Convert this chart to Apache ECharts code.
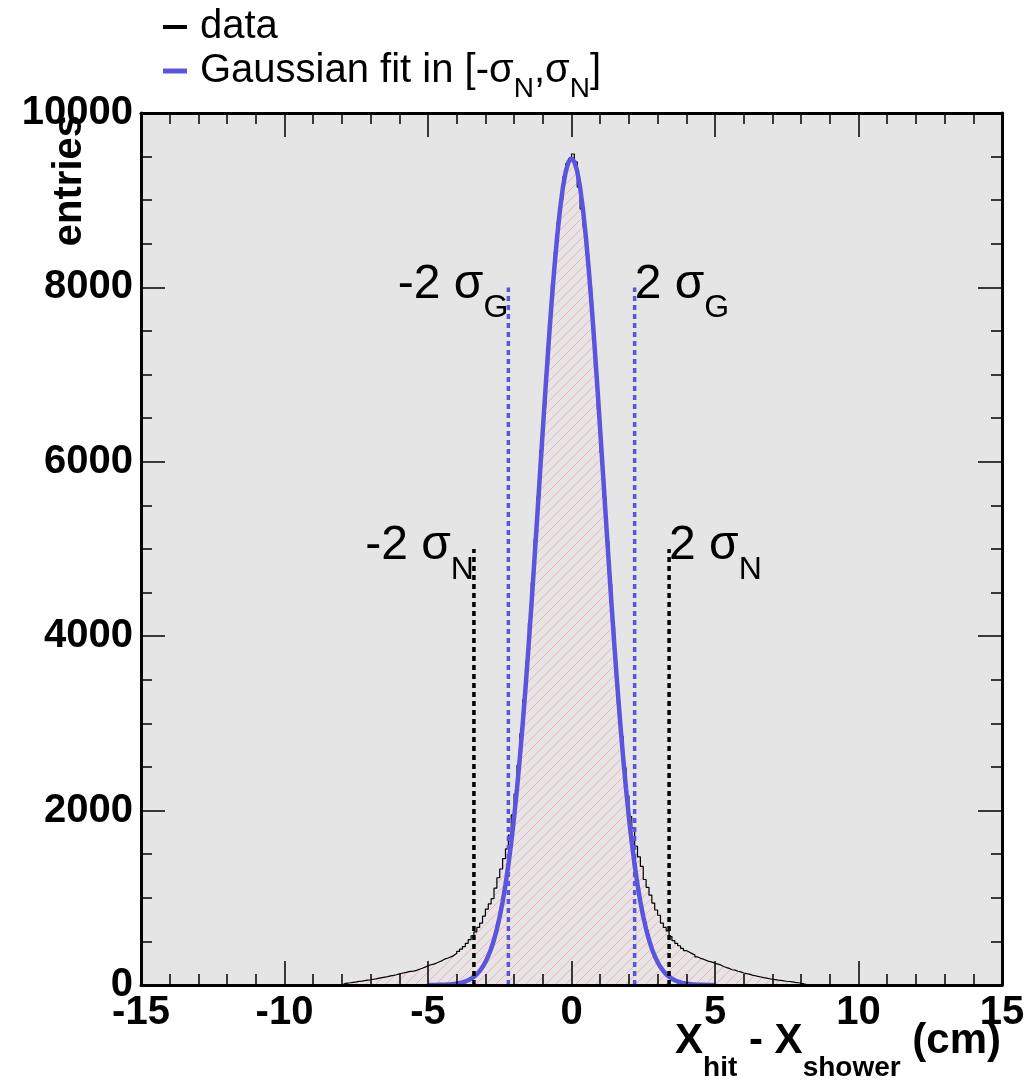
<!DOCTYPE html>
<html>
<head>
<meta charset="utf-8">
<script src="https://cdn.jsdelivr.net/npm/echarts@6/dist/echarts.min.js"></script>
<style>html,body{margin:0;padding:0;background:#fff;}#c{width:1028px;height:1084px;}</style>
</head>
<body>
<div id="c"></div>
<script>
// ---------- data ----------
const binStart = -8.0;
const binWidth = 0.1;
const counts = [
  15,22,26,31,35,42,45,50,56,60,
  66,70,78,84,90,96,104,110,118,128,
  135,141,150,156,160,168,180,192,205,220,
  232,240,252,266,280,300,310,322,340,362,
  385,412,440,478,520,565,610,660,710,790,
  870,930,990,1110,1230,1330,1450,1560,1720,1950,
  2190,2520,2880,3270,3700,4150,4620,5110,5600,6130,
  6620,7110,7600,8040,8410,8750,9010,9270,9420,9480,
  9530,9440,9150,8900,8700,8380,8000,7570,7090,6600,
  6100,5590,5090,4600,4110,3660,3230,2850,2490,2170,
  1930,1800,1590,1470,1360,1210,1120,1030,940,860,
  800,710,660,620,555,510,478,450,420,395,
  378,360,345,322,306,296,282,270,262,250,
  240,230,212,200,190,175,170,158,150,138,
  130,124,114,106,98,92,84,78,72,66,
  62,56,52,47,43,40,36,30,26,20,
  12,6
];
const fitX = [
  -5.0,-4.9,-4.8,-4.7,-4.6,-4.5,-4.4,-4.3,-4.2,-4.1,
  -4.0,-3.9,-3.8,-3.7,-3.6,-3.5,-3.4,-3.3,-3.2,-3.1,
  -3.0,-2.9,-2.8,-2.7,-2.6,-2.5,-2.4,-2.3,-2.2,-2.1,
  -2.0,-1.9,-1.8,-1.7,-1.6,-1.5,-1.4,-1.3,-1.2,-1.1,
  -1.0,-0.9,-0.8,-0.7,-0.6,-0.5,-0.4,-0.3,-0.2,-0.1,
  0.0,0.1,0.2,0.3,0.4,0.5,0.6,0.7,0.8,0.9,
  1.0,1.1,1.2,1.3,1.4,1.5,1.6,1.7,1.8,1.9,
  2.0,2.1,2.2,2.3,2.4,2.5,2.6,2.7,2.8,2.9,
  3.0,3.1,3.2,3.3,3.4,3.5,3.6,3.7,3.8,3.9,
  4.0,4.1,4.2,4.3,4.4,4.5,4.6,4.7,4.8,4.9,5.0
];
const fitY = [
  0,1,1,1,2,3,4,6,8,12,
  16,22,30,40,54,72,95,124,160,206,
  262,332,416,519,641,785,954,1151,1377,1635,
  1925,2248,2606,2996,3417,3866,4340,4834,5340,5852,
  6364,6864,7345,7798,8213,8581,8894,9146,9330,9442,
  9480,9442,9330,9146,8894,8581,8213,7798,7345,6864,
  6364,5852,5340,4834,4340,3866,3417,2996,2606,2248,
  1925,1635,1377,1151,954,785,641,519,416,332,
  262,206,160,124,95,72,54,40,30,22,
  16,12,8,6,4,3,2,1,1,1,0
];
const sigmaG = [-2.2, 2.2];
const sigmaGTop = 8000;
const sigmaN = [-3.4, 3.4];
const sigmaNTop = 5000;
const xTicks = [-15, 15, 5];      // min, max, interval
const yTicks = [0, 10000, 2000];  // min, max, interval

// ---------- build ----------
const histPts = [[binStart, 0]];
for (let i = 0; i < counts.length; i++) histPts.push([binStart + i * binWidth, counts[i]]);
histPts.push([binStart + counts.length * binWidth, 0]);
const fitPts = fitX.map((x, i) => [x, fitY[i]]);

const BLUE = '#5a55dc';
const FONT = "'Liberation Sans', Arial, Helvetica, sans-serif";

// hatch pattern (grey base with light pink diagonal lines)
const S = 10;
const pc = document.createElement('canvas');
pc.width = S; pc.height = S;
const pctx = pc.getContext('2d');
pctx.fillStyle = '#e6e4e4';
pctx.fillRect(0, 0, S, S);
pctx.fillStyle = 'rgb(242,178,178)';
for (let i = 0; i < S; i++) pctx.fillRect(i, S - 1 - i, 1, 1);

const chart = echarts.init(document.getElementById('c'), null, {renderer: 'canvas'});

const axisLine = {show: true, onZero: false, lineStyle: {color: '#000', width: 3}};
const tickStyle = {color: '#000', width: 1.5};
function xAx(pos, showLabel) {
  return {
    type: 'value', position: pos, min: xTicks[0], max: xTicks[1], interval: xTicks[2],
    axisLine: axisLine,
    axisTick: {show: true, inside: true, length: 24, lineStyle: tickStyle},
    minorTick: {show: true, splitNumber: 5, length: 11, lineStyle: tickStyle},
    splitLine: {show: false},
    axisLabel: {show: showLabel, color: '#000', fontFamily: FONT, fontWeight: 'bold', fontSize: 40, margin: 8,
      formatter: v => String(v)},
    z: 10
  };
}
function yAx(pos, showLabel) {
  return {
    type: 'value', position: pos, min: yTicks[0], max: yTicks[1], interval: yTicks[2],
    axisLine: axisLine,
    axisTick: {show: true, inside: true, length: 24, lineStyle: tickStyle},
    minorTick: {show: true, splitNumber: 4, length: 11, lineStyle: tickStyle},
    splitLine: {show: false},
    axisLabel: {show: showLabel, color: '#000', fontFamily: FONT, fontWeight: 'bold', fontSize: 40, margin: 8,
      formatter: v => String(v)},
    z: 10
  };
}

function sigmaLabel(x, top, main, sub, left) {
  return {
    value: [x, top],
    label: {
      show: true,
      position: left ? 'left' : 'right',
      distance: 0,
      offset: [0, 5],
      color: '#000',
      opacity: 1,
      formatter: '{m|' + main + '}{s|' + sub + '}',
      rich: {
        m: {fontFamily: FONT, fontSize: 48, color: '#000', padding: [0, 0, 16, 0], verticalAlign: 'bottom'},
        s: {fontFamily: FONT, fontSize: 32, color: '#000', verticalAlign: 'bottom'}
      }
    }
  };
}

const option = {
  animation: false,
  backgroundColor: '#ffffff',
  grid: {left: 141, right: 26, top: 113, bottom: 99, show: true, backgroundColor: '#e5e5e5', borderWidth: 0},
  xAxis: [xAx('bottom', true), xAx('top', false)],
  yAxis: [yAx('left', true), yAx('right', false)],
  series: [
    {
      name: 'data', type: 'line', xAxisIndex: 0, yAxisIndex: 0,
      data: histPts, step: 'end', symbol: 'none',
      lineStyle: {color: '#000', width: 1.2},
      areaStyle: {color: {image: pc, repeat: 'repeat'}, opacity: 1},
      z: 2
    },
    {
      name: 'fit', type: 'line', data: fitPts, symbol: 'none',
      lineStyle: {color: BLUE, width: 4.5}, z: 3
    },
    {
      name: 'sg', type: 'line', symbol: 'none',
      data: [[sigmaG[0], 0], [sigmaG[0], sigmaGTop]],
      lineStyle: {color: BLUE, width: 3.5, type: [5, 4]}, z: 4
    },
    {
      name: 'sg2', type: 'line', symbol: 'none',
      data: [[sigmaG[1], 0], [sigmaG[1], sigmaGTop]],
      lineStyle: {color: BLUE, width: 3.5, type: [5, 4]}, z: 4
    },
    {
      name: 'sn', type: 'line', symbol: 'none',
      data: [[sigmaN[0], 0], [sigmaN[0], sigmaNTop]],
      lineStyle: {color: '#000', width: 3.5, type: [5, 4]}, z: 4
    },
    {
      name: 'sn2', type: 'line', symbol: 'none',
      data: [[sigmaN[1], 0], [sigmaN[1], sigmaNTop]],
      lineStyle: {color: '#000', width: 3.5, type: [5, 4]}, z: 4
    },
    {
      name: 'labels', type: 'scatter', symbolSize: 0, z: 5, silent: true,
      itemStyle: {opacity: 1},
      data: [
        sigmaLabel(sigmaG[0], sigmaGTop, '-2 σ', 'G', true),
        sigmaLabel(sigmaG[1], sigmaGTop, '2 σ', 'G', false),
        sigmaLabel(sigmaN[0], sigmaNTop, '-2 σ', 'N', true),
        sigmaLabel(sigmaN[1], sigmaNTop, '2 σ', 'N', false)
      ]
    }
  ],
  graphic: [
    // legend
    {type: 'line', shape: {x1: 163, y1: 27, x2: 187, y2: 27}, style: {stroke: '#000', lineWidth: 4}},
    {type: 'text', x: 200, y: 27, style: {text: 'data', font: '40px ' + FONT, fill: '#000', verticalAlign: 'middle', align: 'left'}},
    {type: 'line', shape: {x1: 163, y1: 71, x2: 187, y2: 71}, style: {stroke: BLUE, lineWidth: 5}},
    {type: 'text', x: 200, y: 103, style: {
      text: '{m|Gaussian fit in [-σ}{s|N}{m|,σ}{s|N}{m|]}',
      align: 'left', verticalAlign: 'bottom',
      rich: {
        m: {font: '40px ' + FONT, fill: '#000', color: '#000', padding: [0, 0, 12, 0], verticalAlign: 'bottom'},
        s: {font: '28px ' + FONT, fill: '#000', color: '#000', verticalAlign: 'bottom'}
      }
    }},
    // y title
    {type: 'text', x: 70, y: 115, rotation: Math.PI / 2, style: {
      text: 'entries', font: 'bold 40px ' + FONT, fill: '#000', align: 'right', verticalAlign: 'middle'
    }},
    // x title
    {type: 'text', x: 1001, y: 1082, style: {
      text: '{m|X}{s|hit}{m| - X}{s|shower}{m| (cm)}',
      align: 'right', verticalAlign: 'bottom',
      rich: {
        m: {font: 'bold 42px ' + FONT, fill: '#000', color: '#000', padding: [0, 0, 20, 0], verticalAlign: 'bottom'},
        s: {font: 'bold 28px ' + FONT, fill: '#000', color: '#000', verticalAlign: 'bottom'}
      }
    }}
  ]
};
chart.setOption(option);
</script>
</body>
</html>
